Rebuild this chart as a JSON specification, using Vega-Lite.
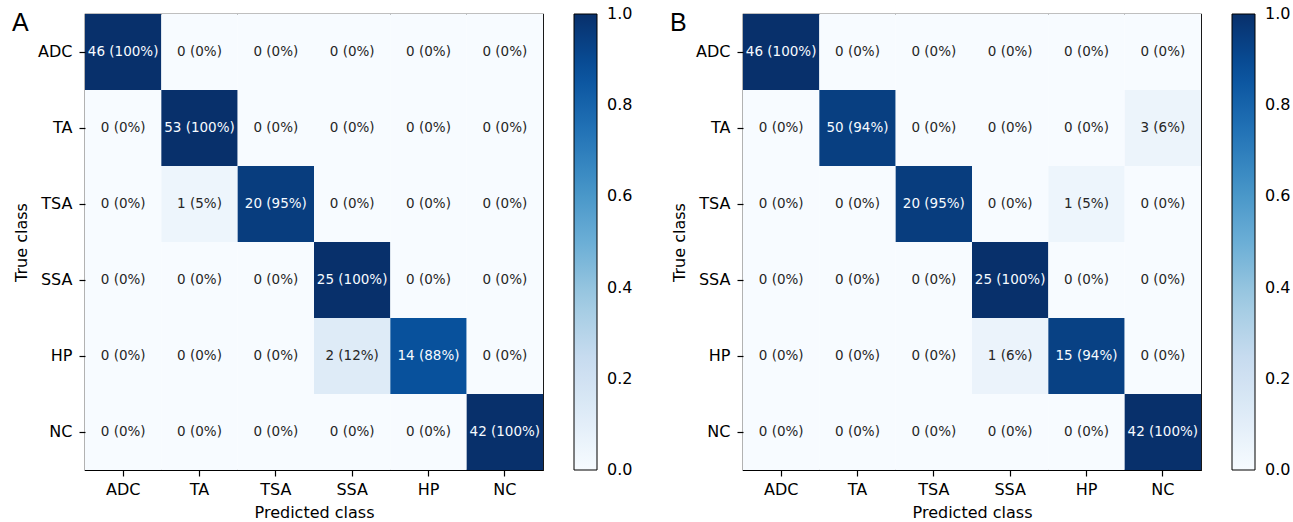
{
  "$schema": "https://vega.github.io/schema/vega-lite/v6.json",
  "padding": {"left": 11, "top": 10, "right": 5, "bottom": 0},
  "spacing": 35,
  "datasets": {
    "cmA": [
      {"t": "ADC", "p": "ADC", "n": 46, "v": 1.0, "label": "46 (100%)"},
      {"t": "ADC", "p": "TA", "n": 0, "v": 0, "label": "0 (0%)"},
      {"t": "ADC", "p": "TSA", "n": 0, "v": 0, "label": "0 (0%)"},
      {"t": "ADC", "p": "SSA", "n": 0, "v": 0, "label": "0 (0%)"},
      {"t": "ADC", "p": "HP", "n": 0, "v": 0, "label": "0 (0%)"},
      {"t": "ADC", "p": "NC", "n": 0, "v": 0, "label": "0 (0%)"},
      {"t": "TA", "p": "ADC", "n": 0, "v": 0, "label": "0 (0%)"},
      {"t": "TA", "p": "TA", "n": 53, "v": 1.0, "label": "53 (100%)"},
      {"t": "TA", "p": "TSA", "n": 0, "v": 0, "label": "0 (0%)"},
      {"t": "TA", "p": "SSA", "n": 0, "v": 0, "label": "0 (0%)"},
      {"t": "TA", "p": "HP", "n": 0, "v": 0, "label": "0 (0%)"},
      {"t": "TA", "p": "NC", "n": 0, "v": 0, "label": "0 (0%)"},
      {"t": "TSA", "p": "ADC", "n": 0, "v": 0, "label": "0 (0%)"},
      {"t": "TSA", "p": "TA", "n": 1, "v": 0.0476, "label": "1 (5%)"},
      {"t": "TSA", "p": "TSA", "n": 20, "v": 0.9524, "label": "20 (95%)"},
      {"t": "TSA", "p": "SSA", "n": 0, "v": 0, "label": "0 (0%)"},
      {"t": "TSA", "p": "HP", "n": 0, "v": 0, "label": "0 (0%)"},
      {"t": "TSA", "p": "NC", "n": 0, "v": 0, "label": "0 (0%)"},
      {"t": "SSA", "p": "ADC", "n": 0, "v": 0, "label": "0 (0%)"},
      {"t": "SSA", "p": "TA", "n": 0, "v": 0, "label": "0 (0%)"},
      {"t": "SSA", "p": "TSA", "n": 0, "v": 0, "label": "0 (0%)"},
      {"t": "SSA", "p": "SSA", "n": 25, "v": 1.0, "label": "25 (100%)"},
      {"t": "SSA", "p": "HP", "n": 0, "v": 0, "label": "0 (0%)"},
      {"t": "SSA", "p": "NC", "n": 0, "v": 0, "label": "0 (0%)"},
      {"t": "HP", "p": "ADC", "n": 0, "v": 0, "label": "0 (0%)"},
      {"t": "HP", "p": "TA", "n": 0, "v": 0, "label": "0 (0%)"},
      {"t": "HP", "p": "TSA", "n": 0, "v": 0, "label": "0 (0%)"},
      {"t": "HP", "p": "SSA", "n": 2, "v": 0.125, "label": "2 (12%)"},
      {"t": "HP", "p": "HP", "n": 14, "v": 0.875, "label": "14 (88%)"},
      {"t": "HP", "p": "NC", "n": 0, "v": 0, "label": "0 (0%)"},
      {"t": "NC", "p": "ADC", "n": 0, "v": 0, "label": "0 (0%)"},
      {"t": "NC", "p": "TA", "n": 0, "v": 0, "label": "0 (0%)"},
      {"t": "NC", "p": "TSA", "n": 0, "v": 0, "label": "0 (0%)"},
      {"t": "NC", "p": "SSA", "n": 0, "v": 0, "label": "0 (0%)"},
      {"t": "NC", "p": "HP", "n": 0, "v": 0, "label": "0 (0%)"},
      {"t": "NC", "p": "NC", "n": 42, "v": 1.0, "label": "42 (100%)"}
    ],
    "cmB": [
      {"t": "ADC", "p": "ADC", "n": 46, "v": 1.0, "label": "46 (100%)"},
      {"t": "ADC", "p": "TA", "n": 0, "v": 0, "label": "0 (0%)"},
      {"t": "ADC", "p": "TSA", "n": 0, "v": 0, "label": "0 (0%)"},
      {"t": "ADC", "p": "SSA", "n": 0, "v": 0, "label": "0 (0%)"},
      {"t": "ADC", "p": "HP", "n": 0, "v": 0, "label": "0 (0%)"},
      {"t": "ADC", "p": "NC", "n": 0, "v": 0, "label": "0 (0%)"},
      {"t": "TA", "p": "ADC", "n": 0, "v": 0, "label": "0 (0%)"},
      {"t": "TA", "p": "TA", "n": 50, "v": 0.9434, "label": "50 (94%)"},
      {"t": "TA", "p": "TSA", "n": 0, "v": 0, "label": "0 (0%)"},
      {"t": "TA", "p": "SSA", "n": 0, "v": 0, "label": "0 (0%)"},
      {"t": "TA", "p": "HP", "n": 0, "v": 0, "label": "0 (0%)"},
      {"t": "TA", "p": "NC", "n": 3, "v": 0.0566, "label": "3 (6%)"},
      {"t": "TSA", "p": "ADC", "n": 0, "v": 0, "label": "0 (0%)"},
      {"t": "TSA", "p": "TA", "n": 0, "v": 0, "label": "0 (0%)"},
      {"t": "TSA", "p": "TSA", "n": 20, "v": 0.9524, "label": "20 (95%)"},
      {"t": "TSA", "p": "SSA", "n": 0, "v": 0, "label": "0 (0%)"},
      {"t": "TSA", "p": "HP", "n": 1, "v": 0.0476, "label": "1 (5%)"},
      {"t": "TSA", "p": "NC", "n": 0, "v": 0, "label": "0 (0%)"},
      {"t": "SSA", "p": "ADC", "n": 0, "v": 0, "label": "0 (0%)"},
      {"t": "SSA", "p": "TA", "n": 0, "v": 0, "label": "0 (0%)"},
      {"t": "SSA", "p": "TSA", "n": 0, "v": 0, "label": "0 (0%)"},
      {"t": "SSA", "p": "SSA", "n": 25, "v": 1.0, "label": "25 (100%)"},
      {"t": "SSA", "p": "HP", "n": 0, "v": 0, "label": "0 (0%)"},
      {"t": "SSA", "p": "NC", "n": 0, "v": 0, "label": "0 (0%)"},
      {"t": "HP", "p": "ADC", "n": 0, "v": 0, "label": "0 (0%)"},
      {"t": "HP", "p": "TA", "n": 0, "v": 0, "label": "0 (0%)"},
      {"t": "HP", "p": "TSA", "n": 0, "v": 0, "label": "0 (0%)"},
      {"t": "HP", "p": "SSA", "n": 1, "v": 0.0625, "label": "1 (6%)"},
      {"t": "HP", "p": "HP", "n": 15, "v": 0.9375, "label": "15 (94%)"},
      {"t": "HP", "p": "NC", "n": 0, "v": 0, "label": "0 (0%)"},
      {"t": "NC", "p": "ADC", "n": 0, "v": 0, "label": "0 (0%)"},
      {"t": "NC", "p": "TA", "n": 0, "v": 0, "label": "0 (0%)"},
      {"t": "NC", "p": "TSA", "n": 0, "v": 0, "label": "0 (0%)"},
      {"t": "NC", "p": "SSA", "n": 0, "v": 0, "label": "0 (0%)"},
      {"t": "NC", "p": "HP", "n": 0, "v": 0, "label": "0 (0%)"},
      {"t": "NC", "p": "NC", "n": 42, "v": 1.0, "label": "42 (100%)"}
    ]
  },
  "hconcat": [
    {
      "title": {"text": "A", "anchor": "start", "frame": "group", "fontSize": 25, "font": "Liberation Sans", "fontWeight": "normal", "color": "black", "dx": -73, "offset": -42, "baseline": "alphabetic"},
      "width": 458,
      "height": 456,
      "data": {"name": "cmA"},
      "encoding": {
        "x": {"field": "p", "type": "nominal", "sort": ["ADC", "TA", "TSA", "SSA", "HP", "NC"], "scale": {"padding": 0}, "title": "Predicted class", "axis": {"labelAngle": 0}},
        "y": {"field": "t", "type": "nominal", "sort": ["ADC", "TA", "TSA", "SSA", "HP", "NC"], "scale": {"padding": 0}, "title": "True class"}
      },
      "layer": [
        {
          "mark": {"type": "rect"},
          "encoding": {
            "color": {
              "field": "v", "type": "quantitative",
              "scale": {"domain": [0, 0.125, 0.25, 0.375, 0.5, 0.625, 0.75, 0.875, 1], "range": ["#f7fbff", "#deebf7", "#c6dbef", "#9ecae1", "#6baed6", "#4292c6", "#2171b5", "#08519c", "#08306b"], "interpolate": "rgb"},
              "legend": {"title": null, "values": [0, 0.2, 0.4, 0.6, 0.8, 1.0], "format": ".1f", "gradientLength": 456, "gradientThickness": 23, "offset": 31, "labelOffset": 10, "labelFontSize": 16, "labelColor": "black", "gradientStrokeColor": "black", "gradientStrokeWidth": 1, "direction": "vertical", "labelBaseline": "middle", "padding": 0, "encode": {"labels": {"update": {"baseline": {"value": "middle"}}}}}
            }
          }
        },
        {
          "mark": {"type": "text", "fontSize": 13.5},
          "encoding": {
            "text": {"field": "label"},
            "color": {"condition": {"test": "datum.v > 0.5", "value": "#f7fbff"}, "value": "#262626"}
          }
        }
      ]
    },
    {
      "title": {"text": "B", "anchor": "start", "frame": "group", "fontSize": 25, "font": "Liberation Sans", "fontWeight": "normal", "color": "black", "dx": -73, "offset": -42, "baseline": "alphabetic"},
      "width": 458,
      "height": 456,
      "data": {"name": "cmB"},
      "encoding": {
        "x": {"field": "p", "type": "nominal", "sort": ["ADC", "TA", "TSA", "SSA", "HP", "NC"], "scale": {"padding": 0}, "title": "Predicted class", "axis": {"labelAngle": 0}},
        "y": {"field": "t", "type": "nominal", "sort": ["ADC", "TA", "TSA", "SSA", "HP", "NC"], "scale": {"padding": 0}, "title": "True class"}
      },
      "layer": [
        {
          "mark": {"type": "rect"},
          "encoding": {
            "color": {
              "field": "v", "type": "quantitative",
              "scale": {"domain": [0, 0.125, 0.25, 0.375, 0.5, 0.625, 0.75, 0.875, 1], "range": ["#f7fbff", "#deebf7", "#c6dbef", "#9ecae1", "#6baed6", "#4292c6", "#2171b5", "#08519c", "#08306b"], "interpolate": "rgb"},
              "legend": {"title": null, "values": [0, 0.2, 0.4, 0.6, 0.8, 1.0], "format": ".1f", "gradientLength": 456, "gradientThickness": 23, "offset": 31, "labelOffset": 10, "labelFontSize": 16, "labelColor": "black", "gradientStrokeColor": "black", "gradientStrokeWidth": 1, "direction": "vertical", "labelBaseline": "middle", "padding": 0, "encode": {"labels": {"update": {"baseline": {"value": "middle"}}}}}
            }
          }
        },
        {
          "mark": {"type": "text", "fontSize": 13.5},
          "encoding": {
            "text": {"field": "label"},
            "color": {"condition": {"test": "datum.v > 0.5", "value": "#f7fbff"}, "value": "#262626"}
          }
        }
      ]
    }
  ],
  "resolve": {"scale": {"color": "independent"}, "legend": {"color": "independent"}},
  "config": {
    "font": "DejaVu Sans",
    "view": {"stroke": "black", "strokeWidth": 1.2},
    "axis": {"domain": false, "ticks": true, "tickColor": "black", "tickSize": 6, "tickWidth": 1.2, "labelFontSize": 16, "labelColor": "black", "titleFontSize": 16, "titleFontWeight": "normal", "titleColor": "black", "grid": false},
    "axisX": {"labelPadding": 5, "titlePadding": 7},
    "axisY": {"labelPadding": 7, "titlePadding": 8}
  }
}
